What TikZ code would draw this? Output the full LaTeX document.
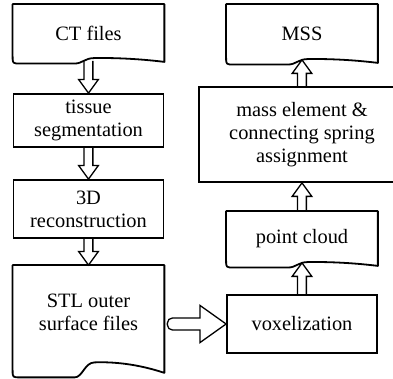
\documentclass[tikz,border=0pt]{standalone}
\usepackage{fontspec}
\setmainfont{Liberation Serif}
\usetikzlibrary{calc}

% bottom edge of a document box: #1 node, #2 wave height, #3 drop of the right end
\newcommand\docwave[3]{%
  -- ($(#1.south east)+(0,#3)$)
  .. controls ($(#1.south west)+(125,{#3-0.6*#2})$) and ($(#1.south west)+(100,{#3-0.75*#2})$) .. ($(#1.south west)+(82,{#3-0.7*#2})$)
  .. controls ($(#1.south west)+(72,{#3-0.7*#2})$) and ($(#1.south west)+(70,{#3+0.3*#2})$) .. ($(#1.south west)+(62,{#3+0.3*#2})$)
  -- ($(#1.south west)+(8,{#3+0.3*#2})$)
  .. controls ($(#1.south west)+(0,{#3+0.3*#2})$) .. ($(#1.south west)+(0,{#3+0.3*#2-7})$)}

\tikzset{
  shaft/.store in=\shafthw, head/.store in=\headhw, tip/.store in=\headlen,
  shaft=2.2pt, head=4.9pt, tip=6.75pt,
  stage/.style={draw, line width=0.9pt, inner sep=0pt, align=center,
    minimum width=75pt, font=\fontsize{10.2}{11.6}\selectfont},
  doc/.style={stage, draw=none},
  outline/.style={line width=0.9pt, line join=round},
  % hollow block arrow, open at its tail
  hollow/.style={line width=0.65pt, line join=miter, to path={
    ($(\tikztostart)!\shafthw!90:(\tikztotarget)$)
    -- ($(\tikztotarget)!\headlen!(\tikztostart)!\shafthw!90:(\tikztotarget)$)
    -- ($(\tikztotarget)!\headlen!(\tikztostart)!\headhw!90:(\tikztotarget)$)
    -- (\tikztotarget)
    -- ($(\tikztotarget)!\headlen!(\tikztostart)!\headhw!-90:(\tikztotarget)$)
    -- ($(\tikztotarget)!\headlen!(\tikztostart)!\shafthw!-90:(\tikztotarget)$)
    -- ($(\tikztostart)!\shafthw!-90:(\tikztotarget)$)}},
  % same, closed with a rounded tail
  hollow round/.style={line width=0.65pt, line join=miter, to path={
    ($(\tikztotarget)!\headlen!(\tikztostart)!\shafthw!90:(\tikztotarget)$)
    [rounded corners=2.5pt] -- ($(\tikztostart)!\shafthw!90:(\tikztotarget)$)
    -- ($(\tikztostart)!\shafthw!-90:(\tikztotarget)$)
    [sharp corners] -- ($(\tikztotarget)!\headlen!(\tikztostart)!\shafthw!-90:(\tikztotarget)$)
    -- ($(\tikztotarget)!\headlen!(\tikztostart)!\headhw!-90:(\tikztotarget)$)
    -- (\tikztotarget)
    -- ($(\tikztotarget)!\headlen!(\tikztostart)!\headhw!90:(\tikztotarget)$)
    -- cycle}},
}

\begin{document}
\begin{tikzpicture}[x=0.5pt, y=-0.5pt]
  \useasboundingbox (0,0) rectangle (393,379);
  \clip (0,0) rectangle (393,379);

  % left column
  \node[doc, minimum height=28pt] (ct) at (88.5,33) {CT files};
  \node[stage, minimum height=26.5pt] (seg) at (88.5,120.5) {tissue\\segmentation};
  \node[stage, minimum height=29pt] (rec) at (88.5,209) {3D\\reconstruction};
  \node[doc, minimum height=46pt] (stl) at (88.5,312) {STL outer\\surface files};

  % right column
  \node[doc, minimum height=28.5pt] (mss) at (302,33.5) {MSS};
  \node[stage, minimum width=103pt, minimum height=47.5pt] (mass) at (302,134.5)
    {mass element \&\\connecting spring\\assignment};
  \node[doc, minimum height=26.5pt] (pc) at (302,238.5) {point cloud};
  \node[stage, minimum height=29pt] (vox) at (302,324) {voxelization};

  % document outlines
  \draw[outline] (ct.north west) -- (ct.north east) \docwave{ct}{5.5}{0} -- cycle;
  \draw[outline] (stl.north west) -- (stl.north east) \docwave{stl}{15}{14} -- cycle;
  \draw[outline] (mss.north west) -- (mss.north east) \docwave{mss}{5.5}{0} -- cycle;
  \draw[outline] (pc.north west) -- (pc.north east) \docwave{pc}{5.5}{0} -- cycle;

  \coordinate (ct tail) at ($(ct.south)+(0,-1)$);
  \coordinate (pc tip) at ($(pc.south)+(0,-3)$);
  \coordinate (mss tip) at ($(mss.south)+(0,-3)$);
  \coordinate (stl tail) at ($(stl.east |- vox.west)+(3,0)$);

  \draw[hollow] (ct tail) to (seg.north);
  \draw[hollow] (seg.south) to (rec.north);
  \draw[hollow] (rec.south) to (stl.north);
  \draw[hollow round, shaft=3pt, head=9.25pt, tip=13pt] (stl tail) to (vox.west);
  \draw[hollow] (vox.north) to (pc tip);
  \draw[hollow] (pc.north) to (mass.south);
  \draw[hollow] (mass.north) to (mss tip);
\end{tikzpicture}
\end{document}
